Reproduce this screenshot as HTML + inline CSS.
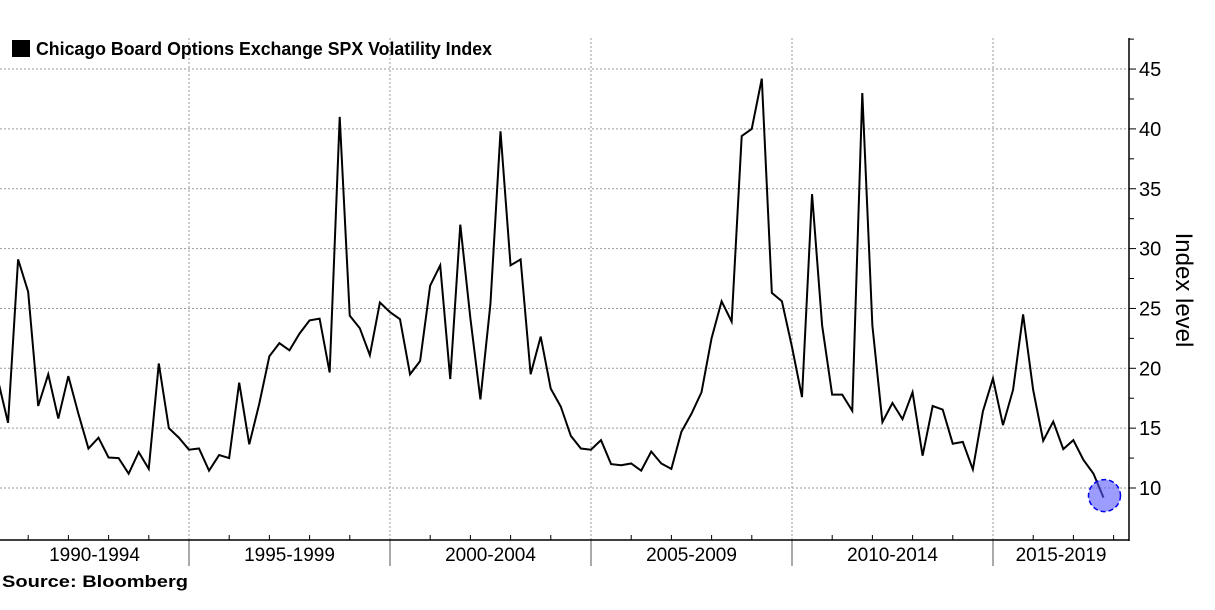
<!DOCTYPE html>
<html><head><meta charset="utf-8"><style>
body{margin:0;background:#fff;width:1215px;height:605px;overflow:hidden;font-family:"Liberation Sans",sans-serif}
</style></head><body>
<svg width="1215" height="605">
<g id="grid"></g>
<g id="axes"></g>
<rect x="12" y="40" width="18" height="17" fill="#000"/>
<text x="36" y="55" font-size="18" font-weight="bold" textLength="456" lengthAdjust="spacingAndGlyphs">Chicago Board Options Exchange SPX Volatility Index</text>
<text x="2" y="587" font-size="17" font-weight="bold" textLength="186" lengthAdjust="spacingAndGlyphs">Source:  Bloomberg</text>
<text transform="translate(1176,290) rotate(90)" font-size="24" text-anchor="middle">Index level</text>
<g id="series"></g>
</svg>
<script>
const vix=[19.0,15.45,29.1,26.4,16.85,19.5,15.8,19.35,16.2,13.3,14.2,12.55,12.5,11.2,13.0,11.6,20.4,15.0,14.2,13.2,
13.3,11.45,12.75,12.5,18.8,13.65,17.05,21.0,22.1,21.5,22.9,24.0,24.15,19.65,41.0,24.4,23.35,21.1,25.5,24.7,
24.1,19.5,20.6,26.9,28.6,19.1,32.0,24.2,17.4,25.4,39.8,28.6,29.1,19.5,22.65,18.3,16.8,14.35,13.3,13.2,
14.0,12.0,11.9,12.05,11.45,13.05,12.05,11.6,14.7,16.2,18.0,22.5,25.6,23.9,39.4,40.0,44.2,26.3,25.6,21.8,
17.6,34.55,23.6,17.8,17.8,16.45,43.0,23.6,15.5,17.1,15.75,18.0,12.7,16.85,16.55,13.7,13.85,11.55,16.4,19.15,
15.25,18.2,24.5,18.2,13.95,15.55,13.25,14.0,12.35,11.2,9.2];
const periods=["1990-1994","1995-1999","2000-2004","2005-2009","2010-2014","2015-2019"];
const yTicks=[10,15,20,25,30,35,40,45];
const NS="http://www.w3.org/2000/svg";
const X=i=>-2+10.05*i;
const Y=v=>488-(v-10)*11.97;
const AX=1129;
function mk(t,a,p){const e=document.createElementNS(NS,t);for(const k in a)e.setAttribute(k,a[k]);p.appendChild(e);return e;}
const grid=document.getElementById('grid'),axes=document.getElementById('axes'),ser=document.getElementById('series');
yTicks.forEach(v=>{
 const l=mk('line',{x1:0,x2:AX,y1:Y(v),y2:Y(v),stroke:'#999','stroke-dasharray':'2,2'},grid);
 
 
 mk('line',{x1:AX,x2:AX+7,y1:Y(v),y2:Y(v),stroke:'#000'},axes);
 mk('line',{x1:AX,x2:AX+5,y1:Y(v+2.5),y2:Y(v+2.5),stroke:'#000'},axes);
 const t=mk('text',{x:AX+10,y:Y(v)+7,'font-size':20},axes);t.textContent=v;
 
 
});
periods.forEach((p,k)=>{
 const xs=X(0)-10+201*k;
 const xe=xs+201;
 if(xe<AX){
  const gl=mk('line',{x1:xe,x2:xe,y1:38,y2:540,stroke:'#999','stroke-dasharray':'2,2'},grid);
  
  
  mk('line',{x1:xe,x2:xe,y1:540,y2:566,stroke:'#555'},axes);
 }
 for(let j=1;j<5;j++){const tx=xs+40.2*j;if(tx>0&&tx<AX)mk('line',{x1:tx,x2:tx,y1:535,y2:540,stroke:'#000'},axes);}
 const a=Math.max(0,xs),b=Math.min(AX,xe);
 const t=mk('text',{x:(a+b)/2,y:561,'font-size':19,'text-anchor':'middle'},axes);t.textContent=p;
 
 
});
mk('line',{x1:AX,x2:AX,y1:38,y2:541,stroke:'#000','stroke-width':1.5},axes);
mk('line',{x1:0,x2:AX,y1:540,y2:540,stroke:'#000','stroke-width':1.5},axes);
const line=mk('polyline',{points:vix.map((v,i)=>X(i)+','+Y(v)).join(' '),fill:'none',stroke:'#000','stroke-width':2,'stroke-linejoin':'miter'},ser);


const n=vix.length-1;
const c=mk('circle',{cx:X(n)+1,cy:Y(vix[n])-2,r:16,fill:'rgba(90,90,255,0.6)',stroke:'#0000ee','stroke-width':1.5,'stroke-dasharray':'5,3'},ser);


</script>
</body></html>
